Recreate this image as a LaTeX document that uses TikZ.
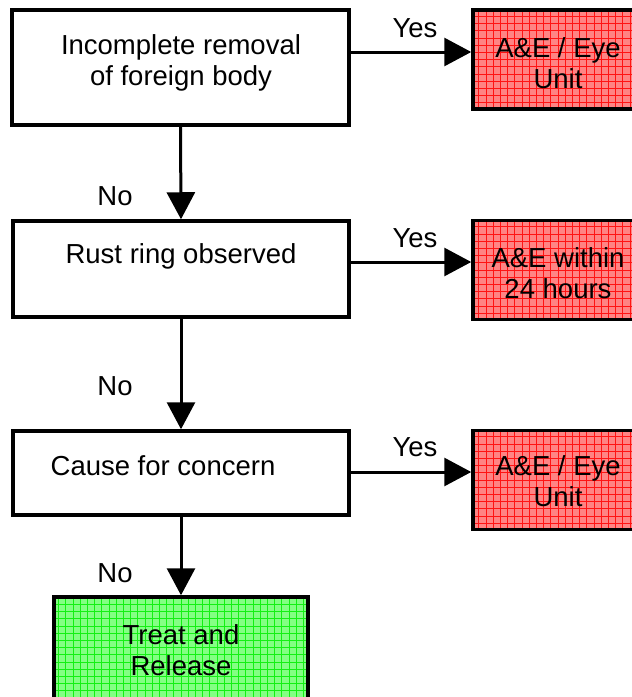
\documentclass[tikz,border=0pt]{standalone}
\usepackage{fontspec}
\setmainfont{Liberation Sans}
\usetikzlibrary{arrows.meta}
\definecolor{redfill}{RGB}{255,132,132}
\definecolor{redgrid}{RGB}{255,20,20}
\definecolor{greenfill}{RGB}{132,255,132}
\definecolor{greengrid}{RGB}{20,240,20}
\tikzset{
  txt/.style={font=\fontsize{27.5}{31}\selectfont, align=center, inner sep=0pt},
  whitebox/.style={draw, line width=3.5pt, fill=white, inner sep=0pt},
  redbox/.style={draw, line width=3.5pt, fill=redfill, inner sep=0pt,
    minimum width=170pt, minimum height=99pt,
    path picture={\draw[redgrid, line width=0.8pt] (path picture bounding box.south west) grid[step=7.2pt] (path picture bounding box.north east);}},
  greenbox/.style={draw, line width=3.5pt, fill=greenfill, inner sep=0pt,
    path picture={\draw[greengrid, line width=0.8pt] (path picture bounding box.south west) grid[step=7.2pt] (path picture bounding box.north east);}},
  arr/.style={line width=3pt, -{Triangle[length=27pt, width=28pt]}}
}
\begin{document}
\begin{tikzpicture}[x=1pt, y=-1pt]
\clip (0,0) rectangle (632,697);
\useasboundingbox (0,0) rectangle (632,697);
% left boxes
\node[whitebox, minimum width=337pt, minimum height=115pt] (b1) at (180.5,67.5) {};
\node[txt] (t1) at (181,63) {Incomplete removal\\of foreign body};
\node[whitebox, minimum width=336pt, minimum height=96pt] (b2) at (181,269) {};
\node[txt] (t2) at (181,256) {Rust ring observed};
\node[whitebox, minimum width=336pt, minimum height=84pt] (b3) at (181,473) {};
\node[txt] (t3) at (163,466) {Cause for concern};
% right boxes
\node[redbox] (r1) at (558,59.5) {};
\node[txt] (rt1) at (558,63) {A\&E / Eye\\Unit};
\node[redbox] (r2) at (558,270) {};
\node[txt] (rt2) at (558,273) {A\&E within\\24 hours};
\node[redbox] (r3) at (558,480) {};
\node[txt] (rt3) at (558,481) {A\&E / Eye\\Unit};
% green box
\node[greenbox, minimum width=254pt, minimum height=130pt] (g) at (181,662) {};
\node[txt] (gt) at (181,650) {Treat and\\Release};
% horizontal arrows
\draw[arr] ([yshift=15.5pt]b1.east) -- ([yshift=15.5pt]b1.east -| r1.west);
\draw[arr] ([yshift=7pt]b2.east) -- ([yshift=7pt]b2.east -| r2.west);
\draw[arr] ([yshift=1pt]b3.east) -- ([yshift=1pt]b3.east -| r3.west);
% vertical arrows
\draw[arr] (b1.south) -- (b2.north);
\draw[arr] (b2.south) -- (b3.north);
\draw[arr] (b3.south) -- (b3.south |- g.north);
% labels
\node[txt] (y1) at (415,28) {Yes};
\node[txt] (y2) at (415,238) {Yes};
\node[txt] (y3) at (415,447) {Yes};
\node[txt] (n1) at (115,196) {No};
\node[txt] (n2) at (115,386) {No};
\node[txt] (n3) at (115,573) {No};
\end{tikzpicture}
\end{document}
